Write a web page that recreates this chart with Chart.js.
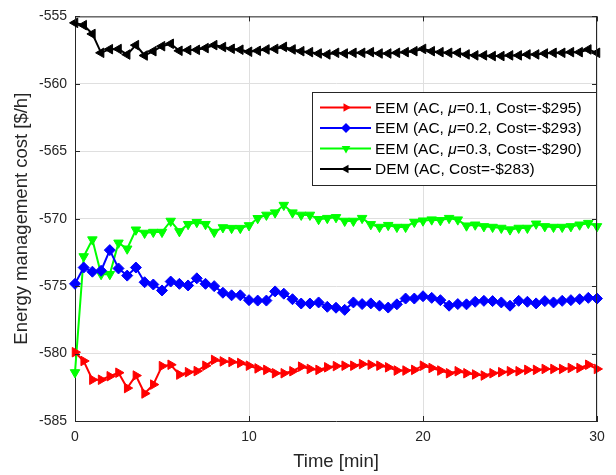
<!DOCTYPE html>
<html lang="en">
<head>
<meta charset="UTF-8">
<title>Energy management cost</title>
<script src="https://cdn.jsdelivr.net/npm/chart.js"></script>
<style>
  html, body { margin: 0; padding: 0; background: #fff; }
  .grafica { width: 616px; height: 475px; }
</style>
</head>
<body>
<div class="grafica">
  <canvas id="myChart" width="616" height="475"></canvas>
</div>
<script>
// time axis [min]
const times = [
  0, 0.5, 1, 1.5, 2, 2.5, 3, 3.5, 4, 4.5,
  5, 5.5, 6, 6.5, 7, 7.5, 8, 8.5, 9, 9.5,
  10, 10.5, 11, 11.5, 12, 12.5, 13, 13.5, 14, 14.5,
  15, 15.5, 16, 16.5, 17, 17.5, 18, 18.5, 19, 19.5,
  20, 20.5, 21, 21.5, 22, 22.5, 23, 23.5, 24, 24.5,
  25, 25.5, 26, 26.5, 27, 27.5, 28, 28.5, 29, 29.5,
  30
];

// EEM mu=0.1 (red)
const eemMu01 = [
  -579.9, -580.55, -581.94, -581.94, -581.68, -581.42, -582.56, -581.63, -582.96, -582.3,
  -580.93, -580.83, -581.56, -581.38, -581.3, -580.9, -580.47, -580.58, -580.62, -580.7,
  -580.9, -581.1, -581.21, -581.46, -581.46, -581.31, -580.97, -581.14, -581.21, -581.02,
  -580.93, -580.9, -580.9, -580.78, -580.83, -580.9, -581.02, -581.26, -581.26, -581.21,
  -580.9, -581.07, -581.26, -581.46, -581.31, -581.46, -581.55, -581.63, -581.46, -581.38,
  -581.31, -581.31, -581.21, -581.21, -581.14, -581.14, -581.14, -581.07, -581.07, -580.83,
  -581.14
];

// EEM mu=0.2 (blue)
const eemMu02 = [
  -574.83, -573.62, -573.93, -573.86, -572.33, -573.69, -574.22, -573.62, -574.71, -574.88,
  -575.32, -574.66, -574.83, -574.95, -574.42, -574.83, -575.0, -575.49, -575.68, -575.68,
  -576.04, -576.07, -576.07, -575.39, -575.56, -575.97, -576.29, -576.29, -576.21, -576.53,
  -576.6, -576.76, -576.21, -576.33, -576.28, -576.45, -576.59, -576.35, -575.92, -575.92,
  -575.75, -575.87, -576.04, -576.45, -576.33, -576.35, -576.16, -576.09, -576.11, -576.21,
  -576.45, -576.09, -576.16, -576.28, -576.11, -576.21, -576.09, -576.04, -575.97, -575.87,
  -575.92
];

// EEM mu=0.3 (green)
const eemMu03 = [
  -581.4, -572.8, -571.55, -574.12, -574.12, -571.79, -572.23, -570.82, -571.06, -570.99,
  -570.99, -570.17, -570.94, -570.41, -570.26, -570.41, -570.99, -570.65, -570.7, -570.7,
  -570.5, -569.97, -569.72, -569.55, -568.99, -569.55, -569.72, -569.72, -570.04, -569.96,
  -569.9, -570.17, -570.17, -569.96, -570.42, -570.62, -570.48, -570.62, -570.62, -570.25,
  -570.15, -570.07, -570.12, -569.96, -570.07, -570.52, -570.45, -570.57, -570.62, -570.69,
  -570.81, -570.69, -570.69, -570.38, -570.57, -570.62, -570.62, -570.57, -570.45, -570.33,
  -570.57
];

// DEM (black)
const dem = [
  -555.48, -555.65, -556.3, -557.7, -557.43, -557.42, -557.83, -557.13, -557.9, -557.58,
  -557.21, -557.03, -557.55, -557.5, -557.48, -557.35, -557.13, -557.27, -557.4, -557.47,
  -557.62, -557.55, -557.45, -557.41, -557.26, -557.45, -557.58, -557.65, -557.75, -557.82,
  -557.7, -557.75, -557.7, -557.7, -557.65, -557.75, -557.75, -557.7, -557.65, -557.58,
  -557.41, -557.58, -557.65, -557.7, -557.7, -557.82, -557.89, -557.89, -557.94, -557.94,
  -557.89, -557.89, -557.82, -557.82, -557.75, -557.7, -557.7, -557.65, -557.65, -557.45,
  -557.7
];

const seriesNames = [
  'EEM (AC, \u03bc=0.1, Cost=-$295)',
  'EEM (AC, \u03bc=0.2, Cost=-$293)',
  'EEM (AC, \u03bc=0.3, Cost=-$290)',
  'DEM (AC, Cost=-$283)'
];

const xTicks = [0, 10, 20, 30];
const yTicks = [-585, -580, -575, -570, -565, -560, -555];

const axisColor = '#262626';
const fontFam = '"Liberation Sans", Arial, Helvetica, sans-serif';

function toPoints(ys) {
  return ys.map((y, i) => ({ x: times[i], y: y }));
}

function makeSet(label, ys, color, style, rot) {
  return {
    label: label,
    data: toPoints(ys),
    borderColor: color,
    backgroundColor: color,
    borderWidth: 2,
    pointStyle: style,
    pointRotation: rot,
    pointRadius: 5.5,
    pointBorderWidth: 1,
    pointBackgroundColor: color,
    pointBorderColor: color,
    tension: 0,
    clip: false
  };
}

// own marker drawing, used for the legend samples
function drawMarker(ctx, style, rot, x, y, r) {
  ctx.beginPath();
  if (style === 'triangle') {
    for (let k = 0; k < 3; k++) {
      const a = (rot + k * 120) * Math.PI / 180;
      const px = x + Math.sin(a) * r, py = y - Math.cos(a) * r;
      if (k === 0) ctx.moveTo(px, py); else ctx.lineTo(px, py);
    }
  } else {
    ctx.moveTo(x, y - r);
    ctx.lineTo(x + r, y);
    ctx.lineTo(x, y + r);
    ctx.lineTo(x - r, y);
  }
  ctx.closePath();
  ctx.fill();
}

// box on top/right and inward ticks, like matlab
const boxPlugin = {
  id: 'boxPlugin',
  afterDraw(chart) {
    const ctx = chart.ctx, a = chart.chartArea;
    const xs = chart.scales.x, ys = chart.scales.y;
    ctx.save();
    ctx.strokeStyle = axisColor;
    ctx.lineWidth = 1;
    ctx.beginPath();
    ctx.moveTo(a.left, a.top + 0.5);
    ctx.lineTo(a.right, a.top + 0.5);
    ctx.moveTo(a.right - 0.5, a.top);
    ctx.lineTo(a.right - 0.5, a.bottom);
    xTicks.forEach(v => {
      const px = Math.round(xs.getPixelForValue(v)) + 0.5;
      ctx.moveTo(px, a.bottom);
      ctx.lineTo(px, a.bottom - 5);
      ctx.moveTo(px, a.top);
      ctx.lineTo(px, a.top + 5);
    });
    yTicks.forEach(v => {
      const py = Math.round(ys.getPixelForValue(v)) + 0.5;
      ctx.moveTo(a.left, py);
      ctx.lineTo(a.left + 5, py);
      ctx.moveTo(a.right, py);
      ctx.lineTo(a.right - 5, py);
    });
    ctx.stroke();
    ctx.restore();
  }
};

// legend inside the plot, top right
const legendPlugin = {
  id: 'insideLegend',
  afterDraw(chart) {
    const ctx = chart.ctx, a = chart.chartArea;
    const w = 284, h = 93;
    const x0 = Math.round(a.right) - w - 1, y0 = Math.round(a.top) + 76;
    ctx.save();
    ctx.fillStyle = '#fff';
    ctx.fillRect(x0, y0, w, h);
    ctx.strokeStyle = axisColor;
    ctx.lineWidth = 1;
    ctx.strokeRect(x0 + 0.5, y0 + 0.5, w, h);
    chart.data.datasets.forEach((ds, i) => {
      const cy = y0 + 15.5 + i * 20.5;
      ctx.strokeStyle = ds.borderColor;
      ctx.fillStyle = ds.borderColor;
      ctx.lineWidth = 2;
      ctx.beginPath();
      ctx.moveTo(x0 + 8, cy);
      ctx.lineTo(x0 + 59, cy);
      ctx.stroke();
      drawMarker(ctx, ds.pointStyle, ds.pointRotation, x0 + 34, cy, 5);
      // text, mu in italics
      const parts = ds.label.split('\u03bc');
      let tx = x0 + 63;
      ctx.fillStyle = '#000';
      ctx.textBaseline = 'middle';
      ctx.textAlign = 'left';
      parts.forEach((p, k) => {
        if (k > 0) {
          ctx.font = 'italic 15.5px ' + fontFam;
          ctx.fillText('\u03bc', tx, cy + 1);
          tx += ctx.measureText('\u03bc').width;
        }
        ctx.font = '15.5px ' + fontFam;
        ctx.fillText(p, tx, cy + 1);
        tx += ctx.measureText(p).width;
      });
    });
    ctx.restore();
  }
};

const data = {
  datasets: [
    makeSet(seriesNames[0], eemMu01, '#ff0000', 'triangle', 90),
    makeSet(seriesNames[1], eemMu02, '#0000ff', 'rectRot', 0),
    makeSet(seriesNames[2], eemMu03, '#00ff00', 'triangle', 180),
    makeSet(seriesNames[3], dem, '#000000', 'triangle', 270)
  ]
};

const config = {
  type: 'line',
  data: data,
  options: {
    responsive: false,
    animation: false,
    devicePixelRatio: 1,
    layout: { padding: { top: 10, right: 19, left: 0, bottom: 0 } },
    plugins: {
      legend: { display: false },
      tooltip: { enabled: false }
    },
    scales: {
      x: {
        type: 'linear',
        min: 0,
        max: 30,
        afterBuildTicks: s => { s.ticks = xTicks.map(v => ({ value: v })); },
        afterFit: s => { s.height = 54; },
        grid: { color: '#dfdfdf', drawTicks: false },
        border: { display: true, color: axisColor, width: 1 },
        ticks: { color: axisColor, padding: 8, font: { family: fontFam, size: 14 } },
        title: {
          display: true,
          text: 'Time [min]',
          color: axisColor,
          padding: { top: 0, bottom: 2 },
          font: { family: fontFam, size: 18.5 }
        }
      },
      y: {
        type: 'linear',
        min: -585,
        max: -555,
        afterBuildTicks: s => { s.ticks = yTicks.map(v => ({ value: v })); },
        afterFit: s => { s.width = 75; },
        grid: { color: '#dfdfdf', drawTicks: false },
        border: { display: true, color: axisColor, width: 1 },
        ticks: { color: axisColor, padding: 8, font: { family: fontFam, size: 14 } },
        title: {
          display: true,
          text: 'Energy management cost [$/h]',
          color: axisColor,
          padding: { top: 11, bottom: 0 },
          font: { family: fontFam, size: 18.5 }
        }
      }
    }
  },
  plugins: [boxPlugin, legendPlugin]
};

const myChart = new Chart(document.getElementById('myChart'), config);
</script>
</body>
</html>
